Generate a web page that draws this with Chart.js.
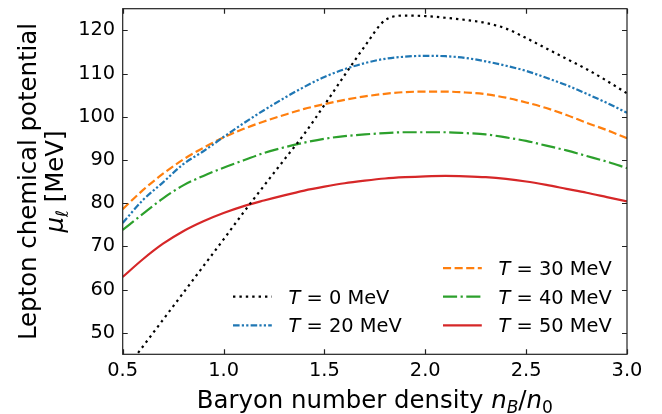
<!DOCTYPE html>
<html>
<head>
<meta charset="utf-8">
<script src="https://cdn.jsdelivr.net/npm/chart.js@4.4.1/dist/chart.umd.min.js"></script>
<style>
  html, body { margin: 0; padding: 0; background: #fff; }
  canvas { display: block; }
</style>
</head>
<body>
<canvas id="chart" width="662" height="414"></canvas>
<script>
// values
const nB = [0.5, 0.6, 0.7, 0.8, 0.9, 1.0, 1.1, 1.2, 1.3, 1.4, 1.5, 1.6, 1.7,
            1.8, 1.9, 2.0, 2.1, 2.2, 2.3, 2.4, 2.5, 2.6, 2.7, 2.8, 2.9, 3.0];

const muT0  = [40.6, 46.8, 53.0, 59.2, 65.4, 71.6, 77.9, 84.0, 90.0, 96.0, 102.7, 109.6, 116.3,
               122.3, 123.4, 123.3, 122.9, 122.4, 121.7, 120.4, 118.2, 115.8, 113.4, 111.0, 108.3, 105.4];
const muT20 = [75.4, 80.7, 84.8, 89.0, 92.0, 95.3, 98.5, 101.5, 104.3, 106.9, 109.2, 111.0, 112.4,
               113.4, 113.9, 114.1, 114.0, 113.6, 112.8, 111.8, 110.6, 109.0, 107.3, 105.3, 103.2, 100.9];
const muT30 = [78.6, 83.0, 86.8, 90.1, 92.8, 95.2, 97.2, 98.9, 100.4, 101.8, 102.9, 103.9, 104.7,
               105.3, 105.7, 105.8, 105.8, 105.6, 105.2, 104.4, 103.3, 102.0, 100.4, 98.6, 96.9, 95.0];
const muT40 = [73.8, 77.5, 81.1, 84.1, 86.3, 88.2, 89.9, 91.6, 92.9, 94.0, 94.9, 95.5, 95.9,
               96.2, 96.4, 96.4, 96.4, 96.2, 95.9, 95.2, 94.4, 93.3, 92.2, 90.9, 89.6, 88.1];
const muT50 = [62.9, 67.0, 70.6, 73.5, 75.8, 77.7, 79.3, 80.6, 81.8, 82.9, 83.8, 84.6, 85.2,
               85.7, 86.0, 86.2, 86.3, 86.2, 86.0, 85.6, 85.0, 84.2, 83.3, 82.4, 81.4, 80.4];

const temps = ["0", "20", "30", "40", "50"];
const xTickValues = [0.5, 1.0, 1.5, 2.0, 2.5, 3.0];
const yTickValues = [50, 60, 70, 80, 90, 100, 110, 120];

const FONT = "DejaVu Sans";
const TICK_PX = 19.4;
const LABEL_PX = 24.4;

function pts(ys) {
  return nB.map((x, i) => ({ x: x, y: ys[i] }));
}

// draw a run of text pieces: {t, it, sub}
function richWidth(ctx, parts, size) {
  let w = 0;
  for (const p of parts) {
    const s = p.sub ? size * 0.7 : size;
    ctx.font = (p.it ? "oblique " : "") + s + "px '" + FONT + "'";
    w += ctx.measureText(p.t).width;
  }
  return w;
}
function drawRich(ctx, parts, x, y, size) {
  for (const p of parts) {
    const s = p.sub ? size * 0.7 : size;
    ctx.font = (p.it ? "oblique " : "") + s + "px '" + FONT + "'";
    ctx.fillText(p.t, x, p.sub ? y + size * 0.22 : y);
    x += ctx.measureText(p.t).width;
  }
}

const decorPlugin = {
  id: "decor",
  afterDatasetsDraw(chart) {
    const ctx = chart.ctx;
    const a = chart.chartArea;
    const xs = chart.scales.x, ys = chart.scales.y;
    ctx.save();
    ctx.strokeStyle = "#222";
    ctx.lineWidth = 1.2;
    ctx.strokeRect(a.left, a.top, a.right - a.left, a.bottom - a.top);
    // inward ticks on all four sides
    const tl = 5;
    ctx.beginPath();
    for (const v of xTickValues) {
      const px = Math.round(xs.getPixelForValue(v)) + 0.5;
      ctx.moveTo(px, a.bottom); ctx.lineTo(px, a.bottom - tl);
      ctx.moveTo(px, a.top); ctx.lineTo(px, a.top + tl);
    }
    for (const v of yTickValues) {
      const py = Math.round(ys.getPixelForValue(v)) + 0.5;
      ctx.moveTo(a.left, py); ctx.lineTo(a.left + tl, py);
      ctx.moveTo(a.right, py); ctx.lineTo(a.right - tl, py);
    }
    ctx.stroke();

    // axis titles
    ctx.fillStyle = "#000";
    ctx.textBaseline = "alphabetic";
    const xt = [
      { t: "Baryon number density " }, { t: "n", it: true }, { t: "B", it: true, sub: true },
      { t: "/" }, { t: "n", it: true }, { t: "0", sub: true }
    ];
    const cx = (a.left + a.right) / 2;
    drawRich(ctx, xt, cx - richWidth(ctx, xt, LABEL_PX) / 2, 408, LABEL_PX);

    const cy = (a.top + a.bottom) / 2;
    ctx.translate(0, cy);
    ctx.rotate(-Math.PI / 2);
    const y1 = [{ t: "Lepton chemical potential" }];
    const y2 = [{ t: "\u03bc", it: true }, { t: "\u2113", it: true, sub: true }, { t: " [MeV]" }];
    drawRich(ctx, y1, -richWidth(ctx, y1, LABEL_PX) / 2, 36, LABEL_PX);
    drawRich(ctx, y2, -richWidth(ctx, y2, LABEL_PX) / 2, 63, LABEL_PX);
    ctx.restore();

    // legend, two columns, left column starts one row lower
    ctx.save();
    const slots = [[233, 296.7], [233, 325.3], [443, 268.2], [443, 296.7], [443, 325.3]];
    chart.data.datasets.forEach((ds, i) => {
      const [lx, ly] = slots[i];
      ctx.strokeStyle = ds.borderColor;
      ctx.lineWidth = ds.borderWidth;
      ctx.setLineDash(ds.borderDash || []);
      ctx.lineCap = "butt";
      ctx.beginPath();
      ctx.moveTo(lx, ly); ctx.lineTo(lx + 38.8, ly);
      ctx.stroke();
      ctx.setLineDash([]);
      ctx.fillStyle = "#000";
      const parts = [{ t: "T", it: true }, { t: " = " + temps[i] + " MeV" }];
      drawRich(ctx, parts, lx + 55.5, ly + 7, TICK_PX);
    });
    ctx.restore();
  }
};

const lw = 2.2;
new Chart(document.getElementById("chart"), {
  type: "line",
  data: {
    datasets: [
      { label: "T = 0 MeV", data: pts(muT0), borderColor: "#000000", borderDash: [2.4, 4.0] },
      { label: "T = 20 MeV", data: pts(muT20), borderColor: "#1f77b4", borderDash: [6.6, 2.2, 2.2, 2.2, 2.2, 2.2] },
      { label: "T = 30 MeV", data: pts(muT30), borderColor: "#ff7f0e", borderDash: [8.1, 3.5] },
      { label: "T = 40 MeV", data: pts(muT40), borderColor: "#2ca02c", borderDash: [14.1, 3.5, 2.2, 3.5] },
      { label: "T = 50 MeV", data: pts(muT50), borderColor: "#d62728", borderDash: [] },
    ].map((d) => Object.assign(d, {
      borderWidth: lw, pointRadius: 0, fill: false, cubicInterpolationMode: "monotone",
    })),
  },
  options: {
    responsive: false,
    devicePixelRatio: 1,
    animation: false,
    layout: { padding: { left: 0, top: 8.7, right: 35, bottom: 0 } },
    plugins: { legend: { display: false }, tooltip: { enabled: false } },
    scales: {
      x: {
        type: "linear", min: 0.5, max: 3.0,
        grid: { display: false, drawTicks: false },
        border: { display: false },
        afterBuildTicks: (s) => { s.ticks = xTickValues.map((v) => ({ value: v })); },
        afterFit: (s) => { s.height = 59.7; s.paddingLeft = 0; s.paddingRight = 0; },
        ticks: {
          padding: 5, color: "#000", maxRotation: 0, autoSkip: false,
          font: { family: FONT, size: TICK_PX },
          callback: (v) => Number(v).toFixed(1),
        },
      },
      y: {
        min: 45, max: 125,
        grid: { display: false, drawTicks: false },
        border: { display: false },
        afterBuildTicks: (s) => { s.ticks = yTickValues.map((v) => ({ value: v })); },
        afterFit: (s) => { s.width = 122.7; s.paddingTop = 0; s.paddingBottom = 0; },
        ticks: {
          padding: 7.5, color: "#000", autoSkip: false,
          font: { family: FONT, size: TICK_PX },
        },
      },
    },
  },
  plugins: [decorPlugin],
});
</script>
</body>
</html>
